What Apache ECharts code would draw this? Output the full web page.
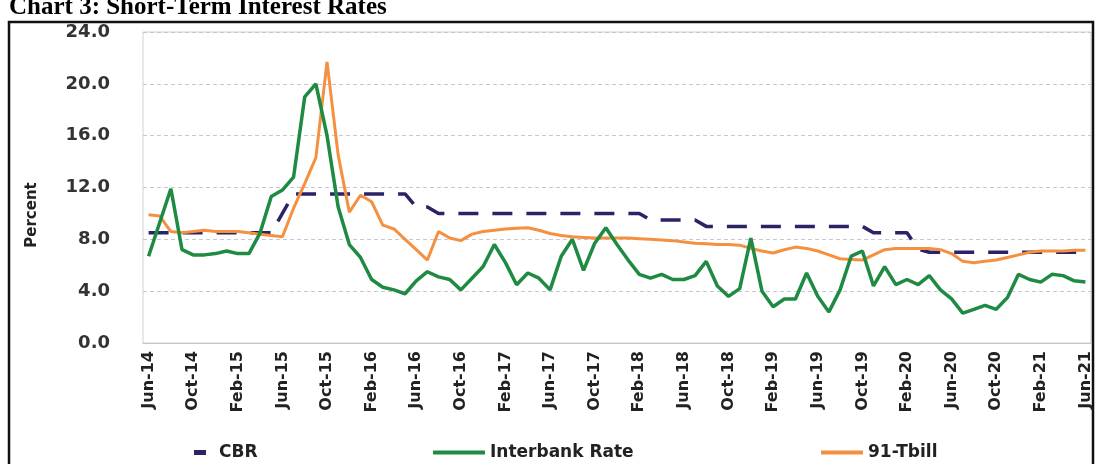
<!DOCTYPE html>
<html>
<head>
<meta charset="utf-8">
<script src="https://cdn.jsdelivr.net/npm/echarts@6/dist/echarts.min.js"></script>
<style>
  html, body { margin: 0; padding: 0; background: #fff; }
  #chart { width: 1096px; height: 464px; }
</style>
</head>
<body>
<div id="chart"></div>
<script>
// monthly, Jun-14 .. Jun-21
const months = ['Jan','Feb','Mar','Apr','May','Jun','Jul','Aug','Sep','Oct','Nov','Dec'];
const categories = [];
for (let k = 0; k < 85; k++) {
    const m = (5 + k) % 12;
    const y = 14 + Math.floor((5 + k) / 12);
    categories.push(months[m] + '-' + y);
}

const cbr = [
    8.5, 8.5, 8.5, 8.5, 8.5, 8.5, 8.5, 8.5, 8.5, 8.5, 8.5, 8.5,
    10.0,
    11.5, 11.5, 11.5, 11.5, 11.5, 11.5, 11.5, 11.5, 11.5, 11.5, 11.5,
    10.5, 10.5,
    10.0, 10.0, 10.0, 10.0, 10.0, 10.0, 10.0, 10.0, 10.0, 10.0, 10.0, 10.0, 10.0, 10.0, 10.0, 10.0, 10.0, 10.0, 10.0,
    9.5, 9.5, 9.5, 9.5, 9.5,
    9.0, 9.0, 9.0, 9.0, 9.0, 9.0, 9.0, 9.0, 9.0, 9.0, 9.0, 9.0, 9.0, 9.0, 9.0,
    8.5, 8.5, 8.5, 8.5,
    7.25,
    7.0, 7.0, 7.0, 7.0, 7.0, 7.0, 7.0, 7.0, 7.0, 7.0, 7.0, 7.0, 7.0, 7.0, 7.0
];

const interbank = [
    6.7, 9.3, 11.9, 7.2, 6.8, 6.8, 6.9, 7.1, 6.9, 6.9,
    8.5, 11.3, 11.8, 12.8, 19.0, 20.0, 16.0, 10.5, 7.6, 6.6,
    4.9, 4.3, 4.1, 3.8, 4.8, 5.5, 5.1, 4.9, 4.1, 5.0,
    5.9, 7.6, 6.2, 4.5, 5.4, 5.0, 4.1, 6.7, 8.0, 5.6,
    7.7, 8.9, 7.6, 6.4, 5.3, 5.0, 5.3, 4.9, 4.9, 5.2,
    6.3, 4.4, 3.6, 4.2, 8.1, 4.0, 2.8, 3.4, 3.4, 5.4,
    3.6, 2.4, 4.1, 6.7, 7.1, 4.4, 5.9, 4.5, 4.9, 4.5,
    5.2, 4.1, 3.4, 2.3, 2.6, 2.9, 2.6, 3.5, 5.3, 4.9,
    4.7, 5.3, 5.2, 4.8, 4.7
];

const tbill91 = [
    9.9, 9.8, 8.6, 8.5, 8.6, 8.7, 8.6, 8.6, 8.6, 8.5,
    8.4, 8.3, 8.2, 10.4, 12.3, 14.3, 21.7, 14.5, 10.1, 11.4,
    10.9, 9.1, 8.8, 8.0, 7.2, 6.4, 8.6, 8.1, 7.9, 8.4,
    8.6, 8.7, 8.8, 8.85, 8.9, 8.7, 8.45, 8.3, 8.2, 8.15,
    8.1, 8.1, 8.1, 8.1, 8.05, 8.0, 7.95, 7.9, 7.8, 7.7,
    7.65, 7.6, 7.6, 7.55, 7.3, 7.1, 6.95, 7.2, 7.4, 7.3,
    7.1, 6.8, 6.5, 6.45, 6.4, 6.8, 7.2, 7.3, 7.3, 7.3,
    7.3, 7.2, 6.9, 6.3, 6.2, 6.3, 6.4, 6.6, 6.8, 7.0,
    7.1, 7.1, 7.1, 7.15, 7.15
];

const yTicks = { min: 0, max: 24, interval: 4 };

const cbrColor = '#2c2266';
const ibColor = '#1f8a42';
const tbColor = '#f4903f';
const labelFont = 'DejaVu Sans';

const chart = echarts.init(document.getElementById('chart'));
const option = {
    animation: false,
    backgroundColor: '#ffffff',
    title: {
        text: 'Chart 3: Short-Term Interest Rates',
        left: 4,
        top: -10,
        textStyle: {
            fontFamily: 'Liberation Serif',
            fontWeight: 'bold',
            fontSize: 25,
            color: '#000'
        }
    },
    legend: [
        {
            data: ['CBR'],
            left: 189,
            top: 439,
            icon: 'rect',
            itemWidth: 12,
            itemHeight: 5,
            textStyle: { fontFamily: labelFont, fontWeight: 'bold', fontSize: 17, color: '#222', padding: [0, 0, 0, 8] }
        },
        {
            data: ['Interbank Rate'],
            left: 428,
            top: 439,
            icon: 'rect',
            itemWidth: 52,
            itemHeight: 4,
            textStyle: { fontFamily: labelFont, fontWeight: 'bold', fontSize: 17, color: '#222' }
        },
        {
            data: ['91-Tbill'],
            left: 816,
            top: 439,
            icon: 'rect',
            itemWidth: 42,
            itemHeight: 4,
            textStyle: { fontFamily: labelFont, fontWeight: 'bold', fontSize: 17, color: '#222' }
        }
    ],
    grid: {
        left: 143,
        right: 5,
        top: 32,
        bottom: 121,
        show: true,
        borderColor: '#cfd0dc',
        borderWidth: 1
    },
    xAxis: {
        type: 'category',
        data: categories,
        boundaryGap: true,
        axisLine: { lineStyle: { color: '#c4c4d0', width: 1 } },
        axisTick: { interval: 3, length: 5, lineStyle: { color: '#b0b0c0' } },
        axisLabel: {
            interval: 3,
            rotate: 90,
            margin: 8,
            fontFamily: labelFont,
            fontWeight: 'bold',
            fontSize: 16,
            color: '#222'
        },
        splitLine: { show: false }
    },
    yAxis: {
        type: 'value',
        min: yTicks.min,
        max: yTicks.max,
        interval: yTicks.interval,
        axisLine: { show: false },
        axisTick: { show: false },
        axisLabel: {
            margin: 33,
            fontFamily: labelFont,
            fontWeight: 'bold',
            fontSize: 18,
            color: '#333',
            formatter: v => v.toFixed(1)
        },
        splitLine: { lineStyle: { color: '#c6c6d6', width: 1, type: [4, 3] } }
    },
    graphic: [
        {
            type: 'rect',
            shape: { x: 9, y: 22, width: 1084, height: 460 },
            style: { fill: 'none', stroke: '#111', lineWidth: 2.5 },
            silent: true
        },
        {
            type: 'text',
            x: 32,
            y: 215,
            rotation: Math.PI / 2,
            style: {
                text: 'Percent',
                fontFamily: labelFont,
                fontWeight: 'bold',
                fontSize: 15,
                fill: '#222',
                align: 'center',
                verticalAlign: 'middle'
            }
        }
    ],
    series: [
        {
            name: 'CBR',
            type: 'line',
            data: cbr,
            showSymbol: false,
            color: cbrColor,
            lineStyle: { color: cbrColor, width: 3.5, type: [20, 14] },
            z: 2
        },
        {
            name: '91-Tbill',
            type: 'line',
            data: tbill91,
            showSymbol: false,
            color: tbColor,
            lineStyle: { color: tbColor, width: 3 },
            z: 3
        },
        {
            name: 'Interbank Rate',
            type: 'line',
            data: interbank,
            showSymbol: false,
            color: ibColor,
            lineStyle: { color: ibColor, width: 3.5 },
            z: 4
        }
    ]
};
chart.setOption(option);
</script>
</body>
</html>
